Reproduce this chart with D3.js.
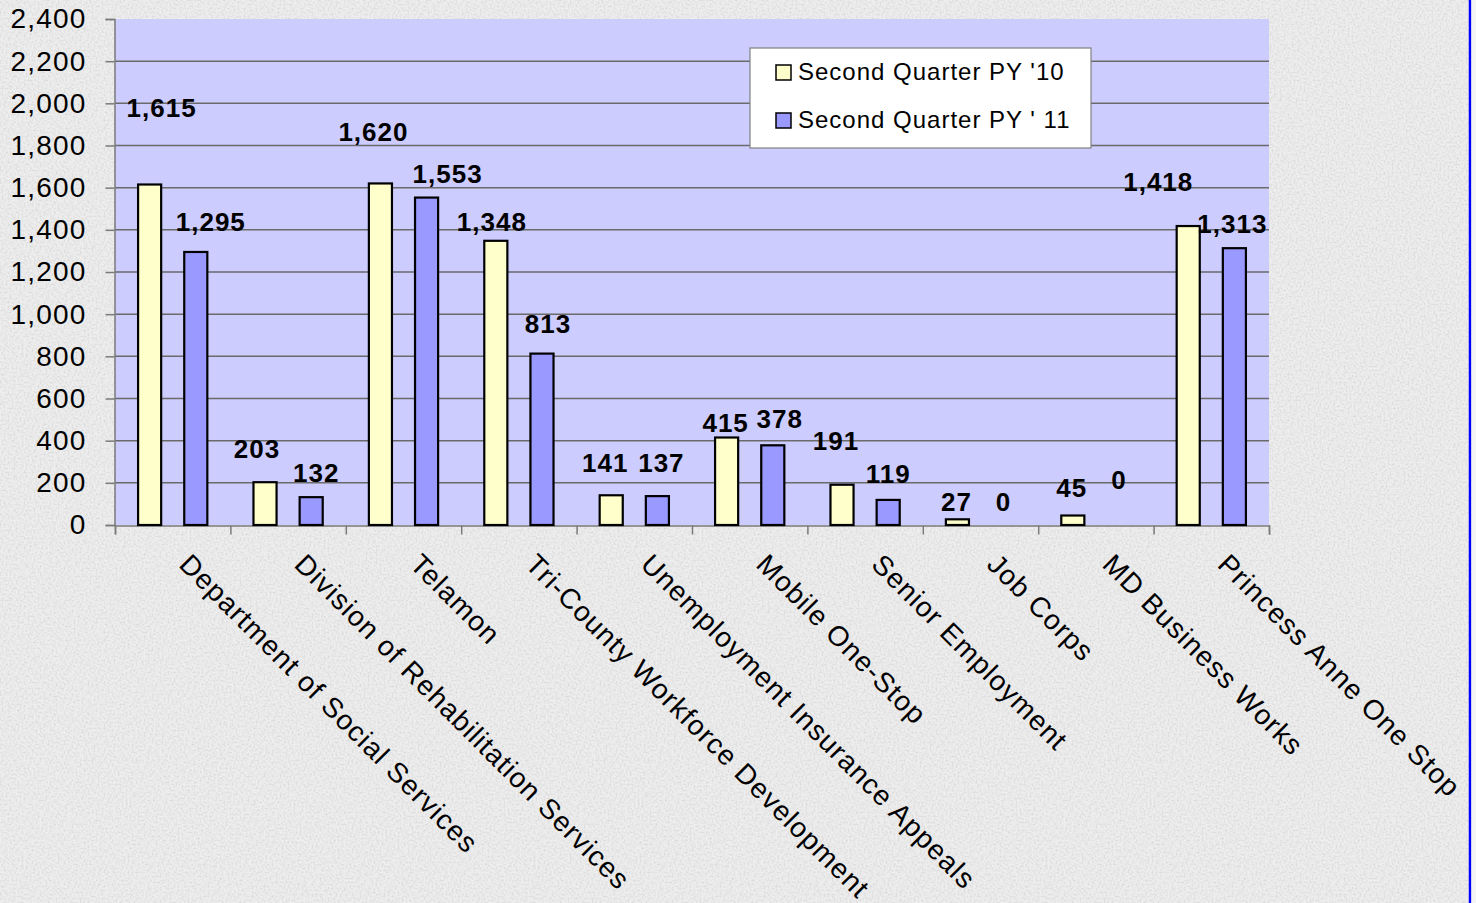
<!DOCTYPE html>
<html>
<head>
<meta charset="utf-8">
<script src="https://cdn.jsdelivr.net/npm/d3@7"></script>
<style>
  body { margin: 0; background: #ebebeb; }
  svg { display: block; }
  text { font-family: "Liberation Sans", Arial, sans-serif; }
</style>
</head>
<body>
<svg id="view" width="1476" height="903"></svg>
<script>
// chart data
var categories = [
	'Department of Social Services',
	'Division of Rehabilitation Services',
	'Telamon',
	'Tri-County Workforce Development',
	'Unemployment Insurance Appeals',
	'Mobile One-Stop',
	'Senior Employment',
	'Job Corps',
	'MD Business Works',
	'Princess Anne One Stop'
];
var seriesNames = ["Second Quarter PY '10", "Second Quarter PY ' 11"];
var py10 = [1615, 203, 1620, 1348, 141, 415, 191, 27, 45, 1418];
var py11 = [1295, 132, 1553, 813, 137, 378, 119, 0, 0, 1313];
var yTicks = [0, 200, 400, 600, 800, 1000, 1200, 1400, 1600, 1800, 2000, 2200, 2400];

// hand placed label nudges (px from bar centre / bar top), as in the original
var nudge10 = [[12,-68],[-8,-24],[-7,-42],[-4,-10],[-6,-23],[-1,-6],[-6,-35],[-1,-8],[-1,-19],[-30,-35]];
var nudge11 = [[15,-21],[5,-15],[21,-15],[6,-21],[4,-24],[7,-17],[0,-17],[0,-14],[0,-36],[-2,-15]];

var colors = ['#FFFFCC', '#9999FF'];

var svg = d3.select('svg#view');
var W = 1476, H = 903;
var plot = {left: 115, right: 1269, top: 19, bottom: 525};

// granite-ish background
var defs = svg.append('defs');
var f = defs.append('filter').attr('id', 'grain').attr('x', 0).attr('y', 0).attr('width', '100%').attr('height', '100%');
f.append('feTurbulence').attr('type', 'fractalNoise').attr('baseFrequency', 0.5).attr('numOctaves', 2).attr('seed', 3);
f.append('feColorMatrix').attr('type', 'matrix')
	.attr('values', '0 0 0 0 0.55  0 0 0 0 0.55  0 0 0 0 0.55  1.8 0 0 0 -0.7');
svg.append('rect').attr('width', W).attr('height', H).attr('fill', '#eeeeee');
svg.append('rect').attr('width', W).attr('height', H).attr('filter', 'url(#grain)').attr('opacity', 0.6);

// blue frame line on the right
svg.append('line').attr('x1', 1470).attr('x2', 1470).attr('y1', 0).attr('y2', H)
	.attr('stroke', '#0000ff').attr('stroke-width', 2.5);
svg.append('rect').attr('x', 1471.5).attr('y', 0).attr('width', 5).attr('height', H).attr('fill', '#f4f4f4');

// scales
var x0 = d3.scaleBand().domain(categories).range([plot.left, plot.right]);
var x1 = d3.scaleBand().domain([0, 1]).range([0, x0.bandwidth()]).paddingInner(0.5).paddingOuter(0.5);
var y = d3.scaleLinear().domain([0, 2400]).range([plot.bottom, plot.top]);
var xt = d3.scaleLinear().domain([0, categories.length]).range([plot.left, plot.right]);

// plot area
svg.append('rect')
	.attr('x', plot.left).attr('y', plot.top)
	.attr('width', plot.right - plot.left).attr('height', plot.bottom - plot.top)
	.attr('fill', '#CCCCFF');

// gridlines
svg.append('g').selectAll('line')
	.data(yTicks.filter(function(d) { return d > 0 && d < 2400; }))
	.enter().append('line')
	.attr('x1', plot.left).attr('x2', plot.right)
	.attr('y1', function(d) { return y(d); }).attr('y2', function(d) { return y(d); })
	.attr('stroke', '#6a6a6a').attr('stroke-width', 1.5);

// y axis
var yAxis = svg.append('g').attr('transform', 'translate(' + (plot.left - 0.5) + ',0)')
	.call(d3.axisLeft(y).tickValues(yTicks).tickSize(9).tickPadding(19).tickFormat(d3.format(',')));
yAxis.select('.domain').attr('stroke', '#7a7a7a').attr('stroke-width', 1.5);
yAxis.selectAll('.tick line').attr('stroke', '#7a7a7a').attr('stroke-width', 1.5);
yAxis.selectAll('.tick text')
	.attr('font-size', 28).attr('fill', '#000').attr('letter-spacing', 1.2)
	.attr('font-family', '"Liberation Sans", Arial, sans-serif');

// x axis (ticks on category boundaries)
var xAxis = svg.append('g').attr('transform', 'translate(0,' + (plot.bottom + 0.5) + ')')
	.call(d3.axisBottom(xt).tickValues(d3.range(categories.length + 1)).tickSize(9).tickFormat(''));
xAxis.select('.domain').attr('stroke', '#7a7a7a').attr('stroke-width', 1.5);
xAxis.selectAll('.tick line').attr('stroke', '#7a7a7a').attr('stroke-width', 1.5);

// bars
var rows = categories.map(function(c, i) { return {cat: c, vals: [py10[i], py11[i]], i: i}; });
var groups = svg.append('g').selectAll('g.cat').data(rows).enter().append('g')
	.attr('class', 'cat')
	.attr('transform', function(d) { return 'translate(' + x0(d.cat) + ',0)'; });

groups.selectAll('rect').data(function(d) { return d.vals.map(function(v, s) { return {v: v, s: s}; }); })
	.enter().filter(function(d) { return d.v > 0; }).append('rect')
	.attr('x', function(d) { return x1(d.s); })
	.attr('width', x1.bandwidth())
	.attr('y', function(d) { return y(d.v); })
	.attr('height', function(d) { return y(0) - y(d.v); })
	.attr('fill', function(d) { return colors[d.s]; })
	.attr('stroke', '#000').attr('stroke-width', 2.2);

// value labels
groups.selectAll('text.val').data(function(d) {
		return d.vals.map(function(v, s) { return {v: v, s: s, n: (s ? nudge11 : nudge10)[d.i]}; });
	})
	.enter().append('text').attr('class', 'val')
	.attr('x', function(d) { return x1(d.s) + x1.bandwidth() / 2 + d.n[0]; })
	.attr('y', function(d) { return y(d.v) + d.n[1]; })
	.attr('text-anchor', 'middle')
	.attr('font-size', 26).attr('font-weight', 'bold').attr('letter-spacing', 1)
	.text(function(d) { return d3.format(',')(d.v); });

// category labels, rotated 45deg
svg.append('g').selectAll('text.cat').data(categories).enter().append('text')
	.attr('class', 'cat')
	.attr('transform', function(d) {
		return 'translate(' + (x0(d) + x0.bandwidth() / 2 + 5) + ',566) rotate(45)';
	})
	.attr('font-size', 28).attr('letter-spacing', 1.1)
	.text(function(d) { return d; });

// legend
var lg = svg.append('g').attr('transform', 'translate(750,48)');
lg.append('rect').attr('width', 341).attr('height', 100)
	.attr('fill', '#fff').attr('stroke', '#808080').attr('stroke-width', 1.2);
var li = lg.selectAll('g.item').data(seriesNames).enter().append('g')
	.attr('transform', function(d, i) { return 'translate(26,' + (17 + i * 48) + ')'; });
li.append('rect').attr('width', 15).attr('height', 15)
	.attr('fill', function(d, i) { return colors[i]; })
	.attr('stroke', '#000').attr('stroke-width', 1.5);
li.append('text').attr('x', 22).attr('y', 15)
	.attr('font-size', 24).attr('letter-spacing', 1)
	.text(function(d) { return d; });
</script>
</body>
</html>
